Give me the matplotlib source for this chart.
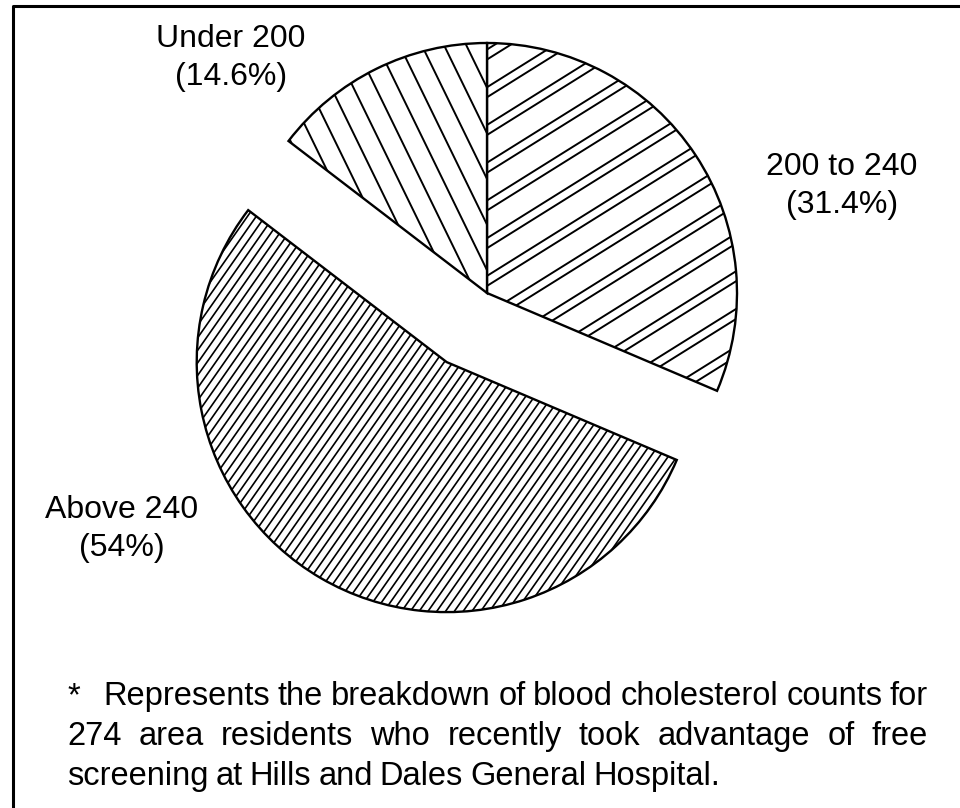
import matplotlib.pyplot as plt
import numpy as np
from matplotlib.collections import LineCollection

# slices go clockwise from 12 o'clock
labels = ["200 to 240\n(31.4%)", "Above 240\n(54%)", "Under 200\n(14.6%)"]
shares = [31.4, 54, 14.6]
pulled = [0, 0.32, 0]   # fraction of radius

note = [
    "*  Represents the breakdown of blood cholesterol counts for",
    "274 area residents who recently took advantage of free",
    "screening at Hills and Dales General Hospital.",
]

W, H = 960, 808
R = 250
plt.rcParams['font.family'] = ['Liberation Sans', 'DejaVu Sans']

fig = plt.figure(figsize=(9.6, 8.08), dpi=100)
ax = fig.add_axes([0, 0, 1, 1])

# pie's explode is in data units, so scale by radius
wedges, _ = ax.pie(shares, startangle=90, counterclock=False,
                   explode=[e * R for e in pulled],
                   center=(487, H - 293), radius=R, frame=True,
                   wedgeprops=dict(facecolor='white', edgecolor='black', linewidth=1.7))
ax.set_xlim(0, W)
ax.set_ylim(0, H)
ax.set_aspect('equal')
ax.axis('off')


def hatch(w, ang, period, offs, lw):
    c = np.array(w.center)
    r = w.r
    a = np.radians(ang)
    d = np.array([np.cos(a), np.sin(a)])
    n = np.array([-np.sin(a), np.cos(a)])
    segs = []
    for k in np.arange(-r - period, r + period, period):
        for o in offs:
            p = c + n * (k + o)
            segs.append([p - d * r * 1.1, p + d * r * 1.1])
    lc = LineCollection(segs, colors='black', linewidths=lw)
    ax.add_collection(lc)
    lc.set_clip_path(w)


hatch(wedges[0], 32, 32, [0, 8.5], 1.4)
hatch(wedges[1], 55, 7.2, [0], 1.2)
hatch(wedges[2], 116, 20, [0], 1.4)

# label spots (x centre, first baseline) in pixels from top-left
spots = [(842, 175), (122, 518), (231, 47)]
for lab, (x, y) in zip(labels, spots):
    for i, part in enumerate(lab.split("\n")):
        ax.text(x, H - y - 38 * i, part, ha='center', va='baseline', fontsize=23)

# footnote, justified like the original
rend = fig.canvas.get_renderer()
left, right = 67, 928
base = [705, 745, 785]
for j, line in enumerate(note):
    words = line.split()
    ts = [ax.text(0, H - base[j], wd, ha='left', va='baseline', fontsize=23.5) for wd in words]
    widths = [t.get_window_extent(renderer=rend).width for t in ts]
    if j < len(note) - 1:
        gaps = [(right - left - sum(widths)) / (len(words) - 1)] * (len(words) - 1)
        if j == 0:
            # wider gap after the asterisk
            extra = 14
            gaps = [gaps[0] + extra] + [g - extra / (len(gaps) - 1) for g in gaps[1:]]
    else:
        gaps = [7] * (len(words) - 1)
    x = left
    for k, t in enumerate(ts):
        t.set_x(x)
        x += widths[k] + (gaps[k] if k < len(gaps) else 0)

# frame of the scanned page
ax.plot([13, 13, W], [0, H - 6, H - 6], color='black', lw=2.2, clip_on=False)

fig.savefig("out.png", dpi=100, facecolor='white')
